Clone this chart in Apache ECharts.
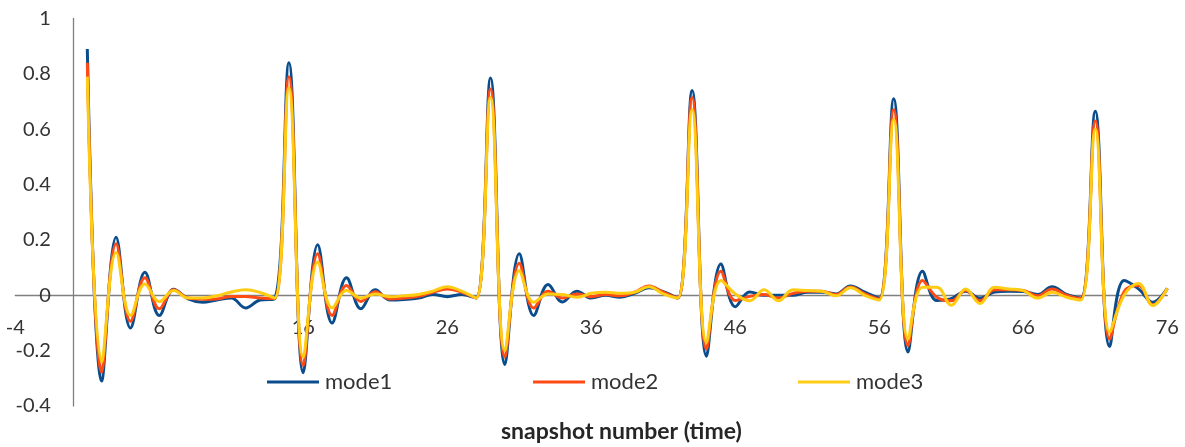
<!DOCTYPE html>
<html>
<head>
<meta charset="utf-8">
<script src="https://cdn.jsdelivr.net/npm/echarts@6/dist/echarts.min.js"></script>
<style>
html,body{margin:0;padding:0;background:#fff;}
#chart{width:1185px;height:447px;}
</style>
</head>
<body>
<div id="chart"></div>
<script>
const snapshots = [1,2,3,4,5,6,7,8,9,10,11,12,13,14,15,16,17,18,19,20,21,22,23,24,25,26,27,28,29,30,31,32,33,34,35,36,37,38,39,40,41,42,43,44,45,46,47,48,49,50,51,52,53,54,55,56,57,58,59,60,61,62,63,64,65,66,67,68,69,70,71,72,73,74,75,76];

const mode1 = [0.89,-0.31,0.21,-0.118,0.083,-0.073,0.022,-0.013,-0.025,-0.017,-0.01,-0.046,-0.017,-0.013,
0.84,-0.28,0.183,-0.1,0.063,-0.049,0.02,-0.017,-0.015,-0.01,0.003,-0.005,0.003,-0.01,
0.785,-0.25,0.15,-0.073,0.039,-0.024,0.015,-0.01,0,-0.007,0.007,0.027,0.013,-0.01,
0.74,-0.22,0.113,-0.041,0.012,0,0,0,0.011,0.011,0.005,0.034,0.011,-0.01,
0.71,-0.205,0.087,-0.019,-0.012,0.015,-0.01,0.012,0.015,0.014,0.003,0.031,0.003,-0.01,
0.665,-0.185,0.053,0.023,-0.025,0.025];

const mode2 = [0.84,-0.278,0.186,-0.094,0.063,-0.049,0.02,-0.01,-0.014,-0.013,-0.004,-0.004,-0.01,-0.012,
0.79,-0.254,0.15,-0.073,0.035,-0.022,0.013,-0.013,-0.01,-0.004,0.011,0.023,0.011,-0.01,
0.745,-0.224,0.116,-0.046,0.015,-0.01,0.005,-0.005,0.003,-0.002,0.011,0.034,0.011,-0.01,
0.715,-0.194,0.087,-0.019,-0.004,0.003,-0.01,0.007,0.015,0.015,0.003,0.03,0.005,-0.014,
0.67,-0.182,0.053,-0.007,-0.02,0.017,-0.02,0.02,0.02,0.017,-0.002,0.023,0,-0.012,
0.63,-0.158,0.013,0.035,-0.035,0.025];

const mode3 = [0.79,-0.242,0.155,-0.073,0.041,-0.023,0.017,-0.01,-0.01,-0.002,0.012,0.02,0.01,-0.01,
0.75,-0.224,0.12,-0.046,0.017,-0.01,0.005,-0.005,-0.002,0.003,0.015,0.031,0.015,-0.01,
0.715,-0.2,0.089,-0.025,0.005,0.003,-0.007,0.007,0.011,0.007,0.011,0.031,0.005,-0.01,
0.67,-0.17,0.053,0.005,-0.02,0.02,-0.02,0.02,0.017,0.015,-0.002,0.027,0,-0.017,
0.635,-0.158,0.029,0.029,-0.036,0.023,-0.03,0.029,0.023,0.017,-0.01,0.011,-0.007,-0.017,
0.6,-0.134,0,0.043,-0.037,0.025];

const seriesNames = ['mode1','mode2','mode3'];
const seriesColors = ['#0a4d8c','#ff4b14','#ffcc14'];
const xTickValues = [-4,6,16,26,36,46,56,66,76];
const xTitle = 'snapshot number (time)';

const allData = [mode1, mode2, mode3];
const FONT = 'Lato, "Liberation Sans", sans-serif';
const labelColor = '#333333';

const X_MIN = -4, X_MAX = 76, Y_MIN = -0.4, Y_MAX = 1;
const gridLeft = 15.3, gridRight = 17.7, gridTop = 18.5, gridBottom = 41;
const W = 1185, H = 447;
const plotW = W - gridLeft - gridRight;
const plotH = H - gridTop - gridBottom;
// shift axes so they cross at zero (Excel style); labels move with the axis
const xAxisOffset = -plotH * (0 - Y_MIN) / (Y_MAX - Y_MIN);
const yAxisOffset = -plotW * (0 - X_MIN) / (X_MAX - X_MIN);

const chart = echarts.init(document.getElementById('chart'), null, {renderer: 'canvas'});

const legendLefts = [267, 533, 798];

chart.setOption({
  animation: false,
  backgroundColor: '#ffffff',
  title: {
    text: xTitle,
    left: 501,
    top: 420,
    padding: 0,
    textStyle: {fontFamily: FONT, fontSize: 23, fontWeight: 'bold', color: '#262626'}
  },
  legend: seriesNames.map((n, i) => ({
    data: [n],
    left: legendLefts[i],
    top: 371,
    padding: 0,
    icon: 'rect',
    itemWidth: 52,
    itemHeight: 3,
    itemGap: 0,
    textStyle: {fontFamily: FONT, fontSize: 22, color: labelColor, padding: [0,0,0,1]}
  })),
  grid: {
    left: gridLeft,
    right: gridRight,
    top: gridTop,
    bottom: gridBottom,
    containLabel: false,
    outerBoundsMode: 'none'
  },
  xAxis: {
    type: 'value',
    min: X_MIN,
    max: X_MAX,
    position: 'bottom',
    offset: xAxisOffset,
    axisLine: {show: true, onZero: false, lineStyle: {color: '#7f7f7f', width: 1.3}},
    axisTick: {show: false},
    splitLine: {show: false},
    axisLabel: {
      customValues: xTickValues,
      margin: 22,
      fontFamily: FONT,
      fontSize: 20,
      color: labelColor
    }
  },
  yAxis: {
    type: 'value',
    min: Y_MIN,
    max: Y_MAX,
    interval: 0.2,
    position: 'left',
    offset: yAxisOffset,
    axisLine: {show: true, onZero: false, lineStyle: {color: '#7f7f7f', width: 1.3}},
    axisTick: {show: false},
    splitLine: {show: false},
    axisLabel: {
      margin: 22,
      fontFamily: FONT,
      fontSize: 20,
      color: labelColor
    }
  },
  series: seriesNames.map((n, i) => ({
    name: n,
    type: 'line',
    symbol: 'none',
    smooth: 0.4,
    color: seriesColors[i],
    lineStyle: {width: 3, color: seriesColors[i]},
    data: snapshots.map((x, k) => [x, allData[i][k]]),
    z: 2 + i
  }))
});
</script>
</body>
</html>
